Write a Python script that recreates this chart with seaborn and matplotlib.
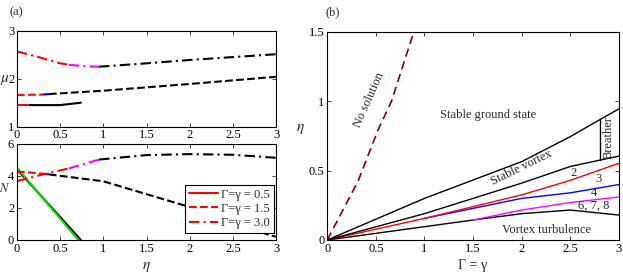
import matplotlib
matplotlib.use("Agg")
import matplotlib.pyplot as plt
import seaborn as sns

# (a) top: mu_2 vs eta
mu_solid_red_x = [0, 0.15]
mu_solid_red_y = [1.45, 1.45]
mu_solid_blk_x = [0.15, 0.5, 0.74]
mu_solid_blk_y = [1.45, 1.45, 1.5]
mu_dash_red_x = [0, 0.3]
mu_dash_red_y = [1.66, 1.67]
mu_dash_blu_x = [0.3, 0.37]
mu_dash_blu_y = [1.67, 1.68]
mu_dash_blk_x = [0.37, 1, 2, 3]
mu_dash_blk_y = [1.68, 1.75, 1.89, 2.04]
mu_dd_red_x = [0, 0.25, 0.5, 0.6]
mu_dd_red_y = [2.57, 2.45, 2.32, 2.29]
mu_dd_mag_x = [0.6, 0.8, 0.95]
mu_dd_mag_y = [2.29, 2.26, 2.25]
mu_dd_blk_x = [0.95, 1.5, 2, 2.5, 3]
mu_dd_blk_y = [2.25, 2.32, 2.39, 2.45, 2.51]

# (a) bottom: N vs eta
n_solid_blk_x = [0, 0.74]
n_solid_blk_y = [4.4, 0]
n_solid_grn_x = [0, 0.71]
n_solid_grn_y = [4.5, 0]
n_dash_red_x = [0, 0.15, 0.3]
n_dash_red_y = [4.25, 4.2, 4.12]
n_dash_blu_x = [0.3, 0.37]
n_dash_blu_y = [4.12, 4.08]
n_dash_blk_x = [0.37, 1, 1.5, 2, 2.5, 2.9, 3]
n_dash_blk_y = [4.08, 3.65, 2.85, 2.05, 1.15, 0.35, 0.2]
n_dd_red_x = [0, 0.3, 0.6]
n_dd_red_y = [3.66, 4.08, 4.45]
n_dd_mag_x = [0.6, 0.95]
n_dd_mag_y = [4.45, 5.0]
n_dd_blk_x = [0.95, 1.5, 2, 2.5, 3]
n_dd_blk_y = [5.0, 5.28, 5.34, 5.3, 5.11]
legend_labels = ["Γ=γ = 0.5", "Γ=γ = 1.5", "Γ=γ = 3.0"]

# (b) phase diagram
nosol_g = [0, 0.32, 0.52, 0.66, 0.89]
nosol_e = [0, 0.43, 0.79, 1.0, 1.5]
top_g = [0, 1, 2, 2.5, 2.81, 3]
top_e = [0, 0.30, 0.565, 0.745, 0.87, 0.945]
second_g = [0, 1, 2, 2.5, 3]
second_e = [0, 0.19, 0.41, 0.53, 0.605]
red_g = [0, 1, 2, 2.5, 3]
red_e = [0, 0.156, 0.325, 0.43, 0.553]
blue_g = [1, 2, 2.5, 3]
blue_e = [0.156, 0.30, 0.34, 0.40]
low_g = [0, 1, 1.5, 2, 2.5, 3]
low_e = [0, 0.096, 0.144, 0.19, 0.216, 0.18]
mag_g = [1.5, 2, 2.5, 3]
mag_e = [0.144, 0.216, 0.27, 0.31]
breather_g = [2.81, 2.81]
breather_e = [0.58, 0.87]

x_ticks = [0, 0.5, 1, 1.5, 2, 2.5, 3]
x_ticklabels = ['0', '0.5', '1', '1.5', '2', '2.5', '3']

sns.set_style("white")
plt.rcParams['font.family'] = ['Liberation Serif', 'DejaVu Serif']
plt.rcParams['mathtext.fontset'] = 'stix'
plt.rcParams['font.size'] = 9

W, H = 623, 276
fig = plt.figure(figsize=(W / 100, H / 100), dpi=100)
ax1 = fig.add_axes([17 / W, (H - 126.7) / H, 259 / W, 96 / H])
ax2 = fig.add_axes([17 / W, (H - 240) / H, 259 / W, 96.5 / H])
ax3 = fig.add_axes([327.3 / W, (H - 240) / H, 291.5 / W, 208 / H])

lw = 1.5
dd = (0, (5, 2, 1, 2))
segs1 = [
    (mu_solid_red_x, mu_solid_red_y, 'red', '-'),
    (mu_solid_blk_x, mu_solid_blk_y, 'black', '-'),
    (mu_dash_red_x, mu_dash_red_y, 'red', '--'),
    (mu_dash_blu_x, mu_dash_blu_y, 'blue', '--'),
    (mu_dash_blk_x, mu_dash_blk_y, 'black', '--'),
    (mu_dd_red_x, mu_dd_red_y, 'red', dd),
    (mu_dd_mag_x, mu_dd_mag_y, 'magenta', dd),
    (mu_dd_blk_x, mu_dd_blk_y, 'black', dd),
]
for x, y, c, ls in segs1:
    sns.lineplot(x=x, y=y, ax=ax1, color=c, linestyle=ls, linewidth=lw)

segs2 = [
    (n_solid_blk_x, n_solid_blk_y, 'black', '-'),
    (n_solid_grn_x, n_solid_grn_y, '#00dd00', '-'),
    (n_dash_red_x, n_dash_red_y, 'red', '--'),
    (n_dash_blu_x, n_dash_blu_y, 'blue', '--'),
    (n_dash_blk_x, n_dash_blk_y, 'black', '--'),
    (n_dd_red_x, n_dd_red_y, 'red', dd),
    (n_dd_mag_x, n_dd_mag_y, 'magenta', dd),
    (n_dd_blk_x, n_dd_blk_y, 'black', dd),
]
for x, y, c, ls in segs2:
    sns.lineplot(x=x, y=y, ax=ax2, color=c, linestyle=ls, linewidth=lw)

handles = [plt.Line2D([], [], color='red', linestyle=s, linewidth=lw) for s in ['-', '--', dd]]
leg = ax2.legend(handles, legend_labels, loc='lower right', fontsize=9, frameon=True,
                 fancybox=False, framealpha=1, edgecolor='black', handlelength=2.3,
                 borderpad=0.3, labelspacing=0.18, handletextpad=0.3,
                 borderaxespad=0, bbox_to_anchor=(0.992, 0.075))
leg.get_frame().set_linewidth(0.8)

lw3 = 1.0
sns.lineplot(x=nosol_g, y=nosol_e, ax=ax3, color='#800000', linestyle=(0, (5, 3)), linewidth=1.2)
sns.lineplot(x=low_g, y=low_e, ax=ax3, color='black', linewidth=lw3)
sns.lineplot(x=mag_g, y=mag_e, ax=ax3, color='magenta', linewidth=lw3)
sns.lineplot(x=blue_g, y=blue_e, ax=ax3, color='blue', linewidth=lw3)
sns.lineplot(x=red_g, y=red_e, ax=ax3, color='red', linewidth=lw3)
sns.lineplot(x=second_g, y=second_e, ax=ax3, color='black', linewidth=lw3)
sns.lineplot(x=top_g, y=top_e, ax=ax3, color='black', linewidth=lw3)
ax3.plot(breather_g, breather_e, color='black', linewidth=lw3)

for ax in (ax1, ax2, ax3):
    ax.set_xlim(0, 3)
    ax.set_xticks(x_ticks)
    ax.set_xticklabels(x_ticklabels)
    ax.tick_params(direction='in', bottom=True, left=True, top=True, right=True,
                   labelbottom=True, labelleft=True, length=3, width=0.6,
                   labelsize=9, pad=2, labelcolor='black')
    for sp in ax.spines.values():
        sp.set_linewidth(0.8)
        sp.set_color('black')
    ax.set_xlabel('')
    ax.set_ylabel('')

# keep the top panel (and its tick labels) above the lower one
ax1.set_zorder(3)
ax1.patch.set_visible(False)
ax2.patch.set_visible(False)

ax1.set_ylim(1, 3)
ax1.set_yticks([1, 2, 3])
ax2.set_ylim(0, 6)
ax2.set_yticks([0, 2, 4, 6])
ax3.set_ylim(0, 1.5)
ax3.set_yticks([0, 0.5, 1, 1.5])
ax3.set_yticklabels(['0', '0.5', '1', '1.5'])

# y labels of (a) sit right next to the tick labels, as in the original
fig.text(9.5 / W, 1 - 80 / H, r'$\mu$', fontsize=11, ha='right', va='center')
fig.text(10.5 / W, 1 - 188 / H, r'$N$', fontsize=9, ha='right', va='center')
ax2.set_xlabel(r'$\eta$', fontsize=11, labelpad=4)
ax3.set_ylabel(r'$\eta$', fontsize=11, labelpad=6, rotation=0)
ax3.set_xlabel('Γ = γ', fontsize=10, labelpad=3)

fig.text(10 / W, 1 - 12 / H, '(a)', fontsize=9, va='center', ha='left')
fig.text(325 / W, 1 - 12 / H, '(b)', fontsize=9, va='center', ha='left')

ax3.text(0.43, 1.01, 'No solution', rotation=66, fontsize=9, ha='center', va='center')
ax3.text(1.65, 0.9, 'Stable ground state', fontsize=9, ha='center', va='center')
ax3.text(2.0, 0.52, 'Stable vortex', rotation=26, fontsize=9, ha='center', va='center')
ax3.text(2.9, 0.74, 'Breather', rotation=90, fontsize=9, ha='center', va='center')
ax3.text(2.53, 0.48, '2', fontsize=9, ha='center', va='center')
ax3.text(2.79, 0.44, '3', fontsize=9, ha='center', va='center')
ax3.text(2.74, 0.34, '4', fontsize=9, ha='center', va='center')
ax3.text(2.74, 0.245, '6, 7, 8', fontsize=9, ha='center', va='center')
ax3.text(2.26, 0.07, 'Vortex turbulence', fontsize=9, ha='center', va='center')

fig.savefig('out.png', dpi=100)
